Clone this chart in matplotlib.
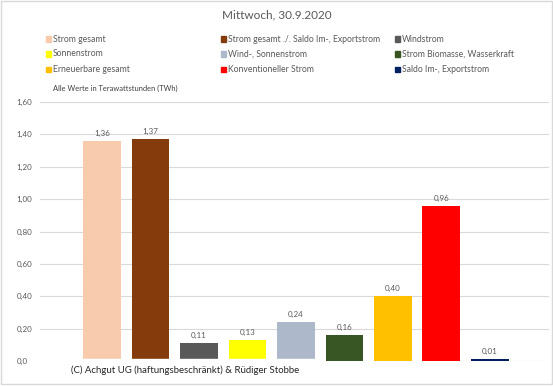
import matplotlib
matplotlib.use("Agg")
import matplotlib.pyplot as plt
from matplotlib.patches import Rectangle

# Daten
kategorien = ["Strom gesamt", "Strom gesamt ./. Saldo Im-, Exportstrom", "Windstrom",
              "Sonnenstrom", "Wind-, Sonnenstrom", "Strom Biomasse, Wasserkraft",
              "Erneuerbare gesamt", "Konventioneller Strom", "Saldo Im-, Exportstrom"]
werte = [1.36, 1.37, 0.11, 0.13, 0.24, 0.16, 0.40, 0.96, 0.01]
farben = ["#F8CBAD", "#843C0C", "#595959", "#FFFF00", "#ADB9CA",
          "#375623", "#FFC000", "#FF0000", "#002060"]
y_ticks = [0.0, 0.2, 0.4, 0.6, 0.8, 1.0, 1.2, 1.4, 1.6]
y_labels = ["0,0", "0,20", "0,40", "0,60", "0,80", "1,00", "1,20", "1,40", "1,60"]

plt.rcParams['font.family'] = ['Lato', 'DejaVu Sans']
textfarbe = "#595959"

W, H = 553, 386
fig = plt.figure(figsize=(W / 100, H / 100), dpi=100)
fig.patch.set_facecolor("white")
fig.patches.append(Rectangle((0.5 / W, 2.5 / H), 1 - 1.5 / W, 1 - 3.5 / H,
                             transform=fig.transFigure, fill=False,
                             edgecolor="#D9D9D9", linewidth=1))

ax = fig.add_axes([40 / W, (H - 361) / H, (549 - 40) / W, (361 - 102) / H])
x = list(range(len(werte)))
ax.bar(x, werte, width=0.78, color=farben, zorder=2)
for xi, v in zip(x, werte):
    ax.text(xi, v + 0.025, f"{v:.2f}".replace(".", ","), ha="center", va="bottom",
            fontsize=5.8, color=textfarbe)

ax.set_xlim(-1.28, 9.22)
ax.set_ylim(0, 1.6)
ax.set_yticks(y_ticks)
ax.set_yticklabels(y_labels, ha="left")
ax.tick_params(axis="y", length=0, pad=17, labelsize=5.8, labelcolor=textfarbe)
ax.set_xticks([])
ax.grid(axis="y", color="#D9D9D9", linewidth=0.8, zorder=0)
for s in ax.spines.values():
    s.set_visible(False)

fig.text(277 / W, 1 - 15 / H, "Mittwoch, 30.9.2020", ha="center", va="center",
         fontsize=8.5, color=textfarbe)
fig.text(53 / W, 1 - 88.5 / H, "Alle Werte in Terawattstunden (TWh)", ha="left",
         va="center", fontsize=5.4, color="#404040")

# Legende, zeilenweise
spalten_x = [46, 221, 395]
zeilen_y = [39, 54, 69.5]
for i, (name, farbe) in enumerate(zip(kategorien, farben)):
    cx = spalten_x[i % 3]
    cy = zeilen_y[i // 3]
    fig.patches.append(Rectangle((cx / W, (H - cy - 2.5) / H), 5 / W, 5 / H,
                                 transform=fig.transFigure, color=farbe))
    fig.text((cx + 7) / W, 1 - cy / H, name, ha="left", va="center",
             fontsize=6.2, color=textfarbe)

# Copyright-Box ueber dem unteren Rand der ersten Balken
fig.patches.append(Rectangle((38 / W, (H - 381) / H), (323 - 38) / W, 22 / H,
                             transform=fig.transFigure, color="white", zorder=3))
fig.text(71 / W, 1 - 370 / H, "(C) Achgut UG (haftungsbeschränkt) & Rüdiger Stobbe",
         ha="left", va="center", fontsize=6.9, color="#262626", zorder=4)

fig.savefig("out.png", dpi=100)
